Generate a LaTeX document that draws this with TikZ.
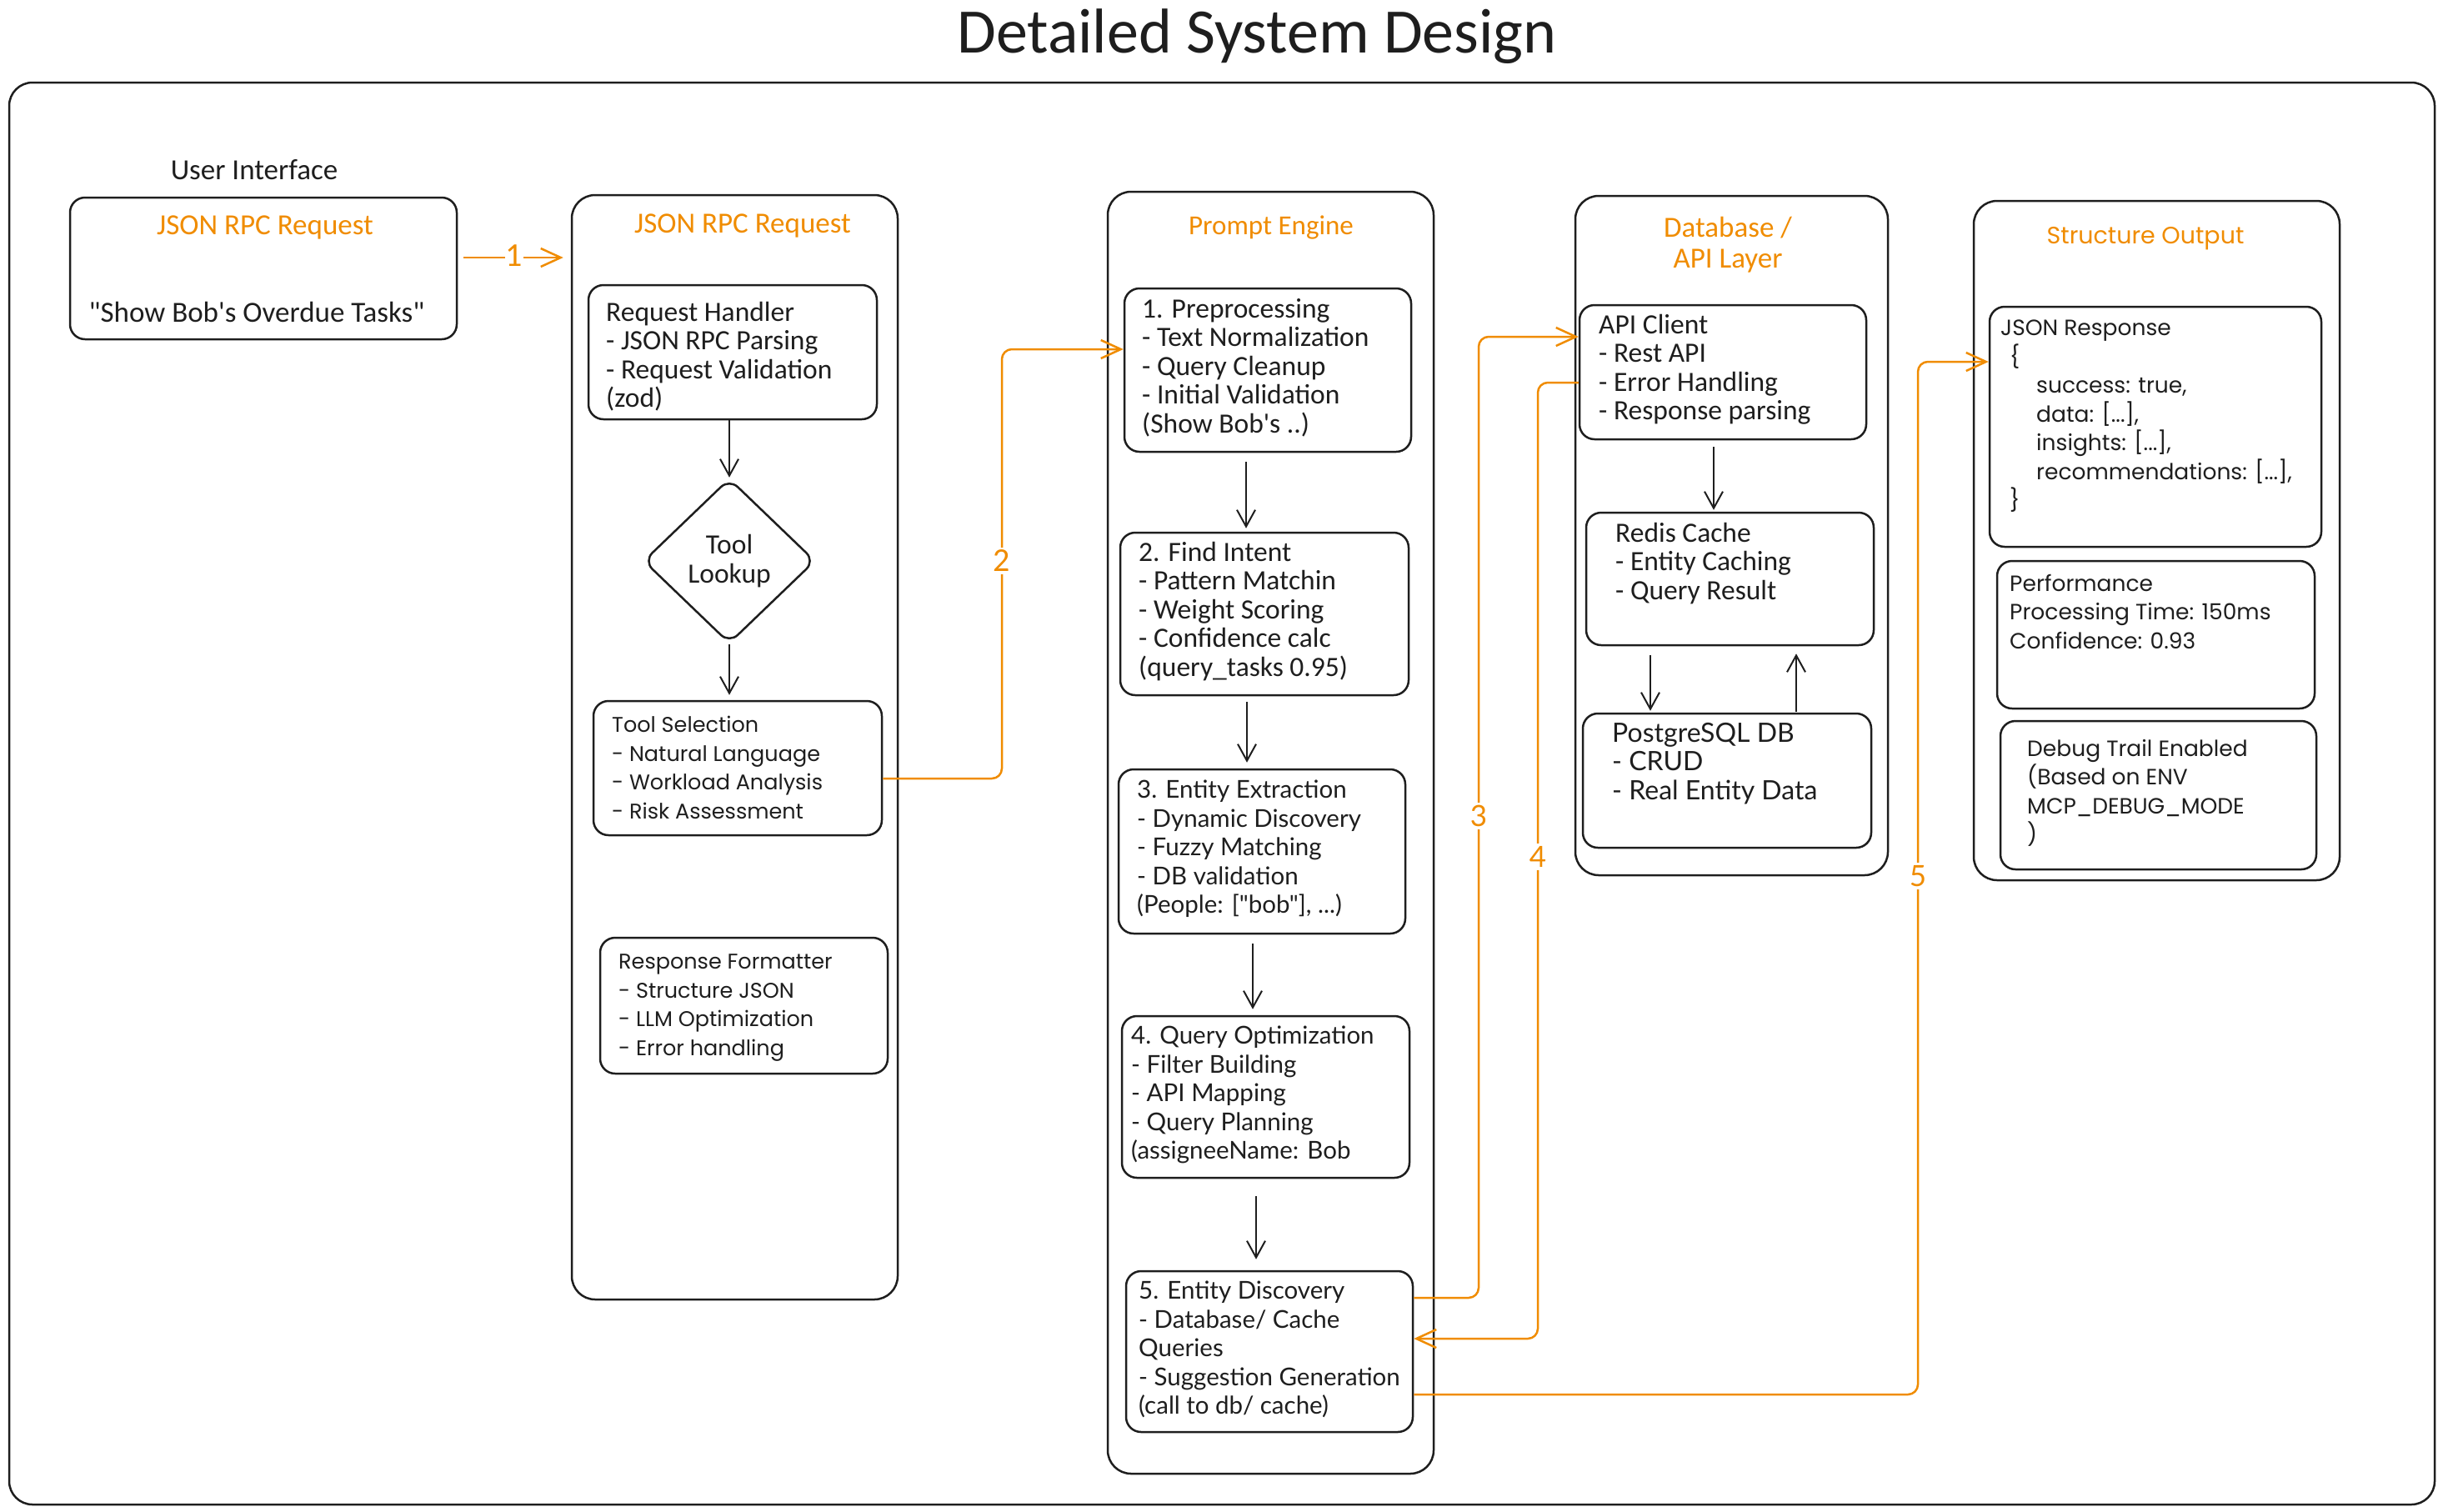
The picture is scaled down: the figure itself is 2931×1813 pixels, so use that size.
\documentclass[tikz,border=0pt]{standalone}
\usepackage{fontspec}
\setmainfont{Carlito}
\newfontfamily\fN{Carlito}
\newfontfamily\fM{Lato}
\newfontfamily\fW{Poppins}
\usetikzlibrary{arrows.meta,shapes.geometric}
\definecolor{ink}{HTML}{1E1E1E}
\definecolor{orng}{HTML}{F08C00}
\tikzset{
  box/.style={draw=ink, line width=2.5pt, rounded corners=18pt, inner sep=0pt},
  cont/.style={draw=ink, line width=2.5pt, rounded corners=28pt, inner sep=0pt},
  txt/.style={anchor=north west, inner sep=0pt, align=left, text=ink, yshift=-2pt},
  nfont/.style={font=\fN\fontsize{33.5}{34.5}\selectfont},
  mfont/.style={font=\fM\fontsize{29.5}{34.5}\selectfont},
  wfont/.style={font=\fW\fontsize{25.5}{34.5}\selectfont},
  sfont/.style={font=\fW\fontsize{26.5}{34.5}\selectfont},
  otitle/.style={text=orng, inner sep=0pt, align=center, font=\fN\fontsize{35}{37}\selectfont},
  barr/.style={draw=ink, line width=2pt, -{Straight Barb[length=20pt,width=22pt]}},
  oarr/.style={draw=orng, line width=2.5pt, rounded corners=12pt, -{Straight Barb[length=24pt,width=22pt]}},
  olab/.style={fill=white, text=orng, inner sep=3pt, font=\fN\fontsize{40}{42}\selectfont},
  olabm/.style={olab, font=\fM\fontsize{35}{37}\selectfont},
}
\begin{document}
\begin{tikzpicture}[x=1pt,y=-1pt]
\useasboundingbox (0,0) rectangle (2931,1813);
\fill[white] (0,0) rectangle (2931,1813);

% title and outer frame
\node[text=ink, font=\fN\fontsize{76}{80}\selectfont, inner sep=0pt] (title) at (1508,44) {Detailed System Design};
\node[cont, minimum width=2910pt, minimum height=1706pt] (outer) at (1466,952) {};

% user interface
\node[text=ink, font=\fN\fontsize{35}{37}\selectfont, inner sep=0pt] (uil) at (305,204) {User Interface};
\node[box, minimum width=464pt, minimum height=170pt] (ui) at (316,322) {};
\node[otitle] (uit) at (318,273) {JSON RPC Request};
\node[text=ink, font=\fN\fontsize{35}{37}\selectfont, inner sep=0pt] (uiq) at (308,374) {"Show Bob's Overdue Tasks"};

% container 2
\node[cont, minimum width=391pt, minimum height=1325pt] (c2) at (881.5,896.5) {};
\node[otitle] (c2t) at (891,271) {JSON RPC Request};
\node[box, minimum width=346pt, minimum height=161pt] (rh) at (879,422.5) {};
\node[txt, nfont] (rht) at (727,360) {Request Handler\\- JSON RPC Parsing\\- Request Validation\\(zod)};
\node[diamond, draw=ink, line width=2.5pt, rounded corners=14pt, minimum width=206pt, minimum height=198pt, inner sep=0pt, align=center, nfont, text=ink] (tl) at (875,673) {Tool\\Lookup};
\node[box, minimum width=346pt, minimum height=161pt] (ts) at (885,921.5) {};
\node[txt, wfont] (tst) at (734,857) {Tool Selection\\- Natural Language\\- Workload Analysis\\- Risk Assessment};
\node[box, minimum width=345pt, minimum height=163pt] (rf) at (892.5,1206.5) {};
\node[txt, wfont] (rft) at (742,1143) {Response Formatter\\- Structure JSON\\- LLM Optimization\\- Error handling};

% container 3 prompt engine
\node[cont, minimum width=391pt, minimum height=1538pt] (c3) at (1524.5,999) {};
\node[otitle, font=\fN\fontsize{33}{35}\selectfont] (c3t) at (1525,273) {Prompt Engine};
\node[box, minimum width=344pt, minimum height=196pt] (b1) at (1521,444) {};
\node[txt, nfont] (b1t) at (1370,356) {1. Preprocessing\\- Text Normalization\\- Query Cleanup\\- Initial Validation\\(Show Bob's ..)};
\node[box, minimum width=346pt, minimum height=195pt] (b2) at (1517,736.5) {};
\node[txt, nfont] (b2t) at (1366,648) {2. Find Intent\\- Pattern Matchin\\- Weight Scoring\\- Confidence calc\\(query\_tasks 0.95)};
\node[box, minimum width=344pt, minimum height=197pt] (b3) at (1514,1021.5) {};
\node[txt, mfont] (b3t) at (1364,934) {3. Entity Extraction\\- Dynamic Discovery\\- Fuzzy Matching\\- DB validation\\(People: ["bob"], ...)};
\node[box, minimum width=345pt, minimum height=194pt] (b4) at (1518.5,1316) {};
\node[txt, mfont] (b4t) at (1357,1229) {4. Query Optimization\\- Filter Building\\- API Mapping\\- Query Planning\\(assigneeName: Bob};
\node[box, minimum width=344pt, minimum height=193pt] (b5) at (1523,1621.5) {};
\node[txt, mfont] (b5t) at (1366,1535) {5. Entity Discovery\\- Database/ Cache\\Queries\\- Suggestion Generation\\(call to db/ cache)};

% container 4 database
\node[cont, minimum width=375pt, minimum height=815pt] (c4) at (2077.5,642.5) {};
\node[otitle] (c4t) at (2073,294) {Database /\\API Layer};
\node[box, minimum width=344pt, minimum height=161pt] (api) at (2067,446.5) {};
\node[txt, nfont] (apit) at (1918,375) {API Client\\- Rest API\\- Error Handling\\- Response parsing};
\node[box, minimum width=345pt, minimum height=159pt] (redis) at (2075.5,694.5) {};
\node[txt, nfont] (redist) at (1938,625) {Redis Cache\\- Entity Caching\\- Query Result};
\node[box, minimum width=346pt, minimum height=161pt] (pg) at (2072,936.5) {};
\node[txt, font=\fM\fontsize{32}{34.5}\selectfont] (pgt) at (1934,865) {PostgreSQL DB\\- CRUD\\- Real Entity Data};

% container 5 structure output
\node[cont, minimum width=439pt, minimum height=815pt] (c5) at (2587.5,648.5) {};
\node[otitle, font=\fW\fontsize{28.5}{30}\selectfont] (c5t) at (2574,286) {Structure Output};
\node[box, minimum width=398pt, minimum height=288pt] (jr) at (2586,512) {};
\node[txt, sfont] (jrt) at (2400,382) {JSON Response\\\hspace*{11pt}\{\\\hspace*{43pt}success: true,\\\hspace*{43pt}data: [...],\\\hspace*{43pt}insights: [...],\\\hspace*{43pt}recommendations: [...],\\\hspace*{11pt}\}};
\node[box, minimum width=381pt, minimum height=177pt] (perf) at (2586.5,761.5) {};
\node[txt, sfont] (perft) at (2411,687) {Performance\\Processing Time: 150ms\\Confidence: 0.93};
\node[box, minimum width=379pt, minimum height=178pt] (dbg) at (2589.5,954) {};
\node[txt, sfont] (dbgt) at (2432,885) {Debug Trail Enabled\\(Based on ENV\\MCP\_DEBUG\_MODE\\)};

% black arrows
\draw[barr] (tl.north |- rh.south) -- (tl.north);
\draw[barr, shorten >=6pt] (tl.south) -- (tl.south |- ts.north);
\coordinate (p12) at (1495,0);
\coordinate (p23) at (1496,0);
\coordinate (p34) at (1503,0);
\coordinate (p45) at (1507,0);
\draw[barr, shorten <=11pt, shorten >=4pt] (b1.south -| p12) -- (b2.north -| p12);
\draw[barr, shorten <=7pt, shorten >=7pt] (b2.south -| p23) -- (b3.north -| p23);
\draw[barr, shorten <=11pt, shorten >=7pt] (b3.south -| p34) -- (b4.north -| p34);
\draw[barr, shorten <=21pt, shorten >=13pt] (b4.south -| p45) -- (b5.north -| p45);
\coordinate (dq1) at (2056,0);
\coordinate (dq2) at (1980,0);
\coordinate (dq3) at (2155,0);
\draw[barr, shorten <=8pt, shorten >=2pt] (api.south -| dq1) -- (redis.north -| dq1);
\draw[barr, shorten <=11pt, shorten >=2pt] (redis.south -| dq2) -- (pg.north -| dq2);
\draw[barr, shorten <=1pt, shorten >=9pt] (pg.north -| dq3) -- (redis.south -| dq3);

% orange connectors
\coordinate (k1) at (0,309);
\draw[oarr, shorten <=7pt, shorten >=9pt] (ui.east |- k1) -- (c2.west |- k1);
\node[olab, inner sep=1pt] (l1) at (617,307) {1};

\coordinate (k2a) at (1202,934);
\coordinate (k2b) at (1202,419);
\draw[oarr] (ts.east |- k2a) -- (k2a) -- (k2b) -- (b1.west |- k2b);
\node[olab] (l2) at (1202,673) {2};

\coordinate (k3a) at (1774,1557);
\coordinate (k3b) at (1774,404);
\draw[oarr] (b5.east |- k3a) -- (k3a) -- (k3b) -- (api.west |- k3b);
\node[olabm] (l3) at (1774,979) {3};

\coordinate (k4a) at (1845,459);
\coordinate (k4b) at (1845,1606);
\draw[oarr] (api.west |- k4a) -- (k4a) -- (k4b) -- (b5.east |- k4b);
\node[olabm] (l4) at (1845,1028) {4};

\coordinate (k5a) at (2301,1673);
\coordinate (k5b) at (2301,434);
\draw[oarr] (b5.east |- k5a) -- (k5a) -- (k5b) -- (jr.west |- k5b);
\node[olabm] (l5) at (2301,1051) {5};
\end{tikzpicture}
\end{document}
